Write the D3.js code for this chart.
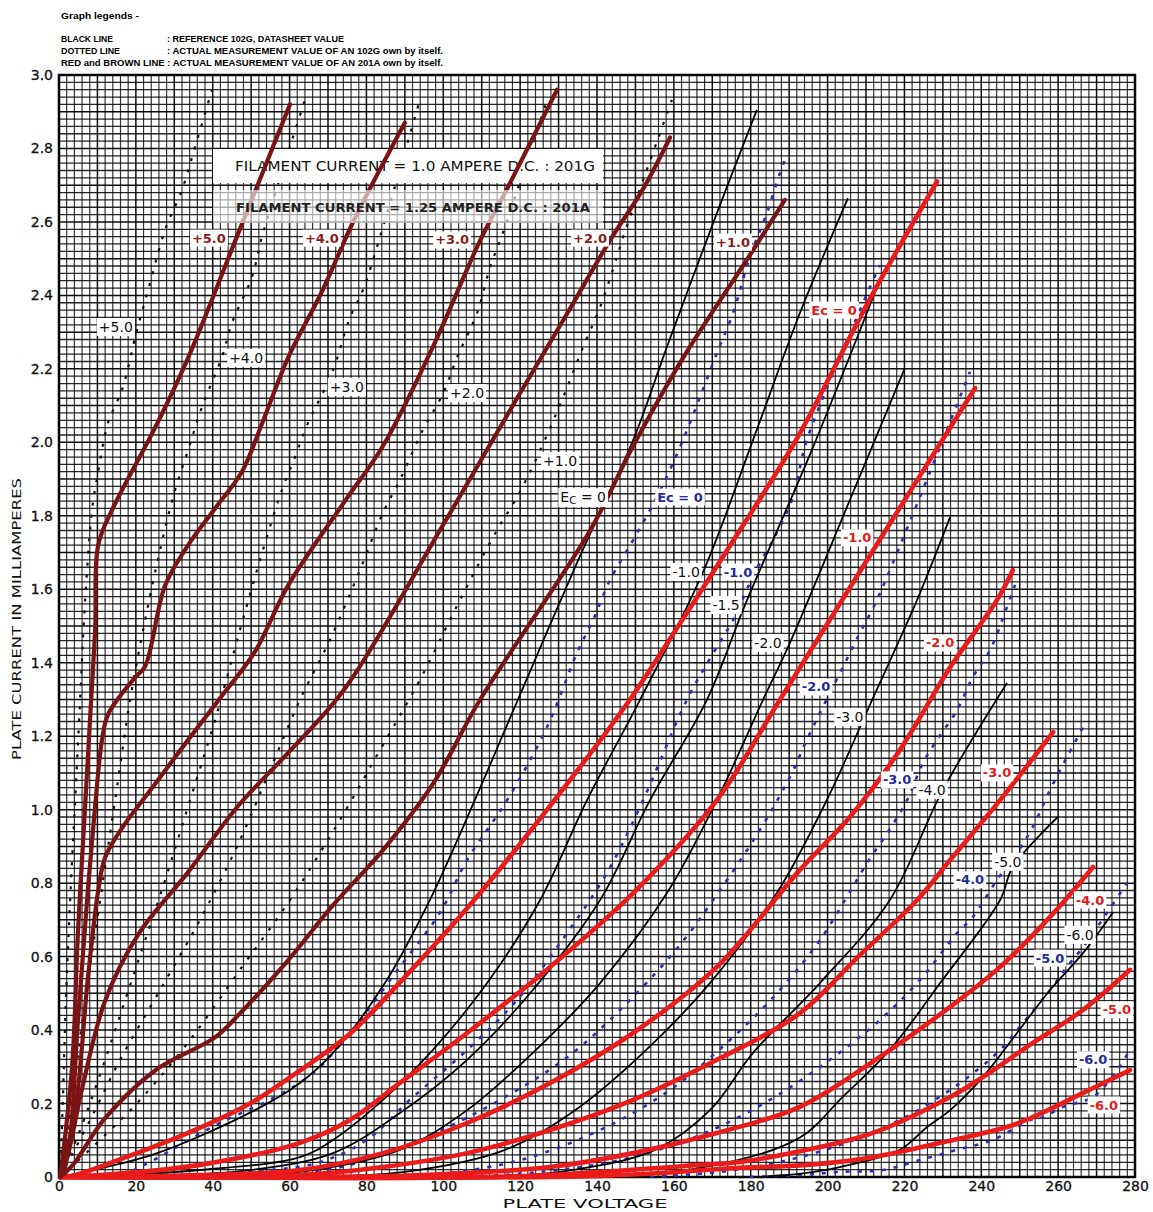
<!DOCTYPE html>
<html><head><meta charset="utf-8">
<script src="https://cdn.jsdelivr.net/npm/d3@7"></script>
<style>body{margin:0;background:#fff}</style>
</head><body>
<svg id="c" width="1153" height="1212" xmlns="http://www.w3.org/2000/svg"></svg>
<script>
// ---------- DATA (plate voltage V, plate current mA) ----------
const xTicks = [0,20,40,60,80,100,120,140,160,180,200,220,240,260,280];
const yTicks = [0,0.2,0.4,0.6,0.8,1.0,1.2,1.4,1.6,1.8,2.0,2.2,2.4,2.6,2.8,3.0];
const yTickLabels = ["0","0.2","0.4","0.6","0.8","1.0","1.2","1.4","1.6","1.8","2.0","2.2","2.4","2.6","2.8","3.0"];

// 201A measured, positive grid (brown)
const brownLabels = ["+5.0","+4.0","+3.0","+2.0","+1.0"];
const brownLabelAt = [[39.0,2.556],[68.4,2.556],[102.3,2.551],[138.2,2.556],[175.4,2.545]];
const brownCurves = [
  [[0.3,0],[3.4,0.3],[4.9,0.66],[6.8,1.01],[8.1,1.25],[9.4,1.49],[10.2,1.72],[14.0,1.82],[25.0,2.04],[33.6,2.23],[46.3,2.56],[60.1,2.92]],
  [[0.3,0],[2.3,0.06],[4.9,0.42],[7.5,0.78],[9.4,1.01],[11.2,1.19],[12.8,1.26],[19.8,1.36],[22.4,1.39],[27.6,1.61],[33.6,1.72],[40.6,1.82],[47.6,1.92],[52.8,2.05],[59.6,2.23],[68.4,2.41],[77.0,2.61],[90.0,2.87]],
  [[0.3,0],[4.2,0.18],[7.5,0.54],[10.2,0.78],[12.0,0.87],[16.4,0.95],[25.0,1.07],[33.6,1.19],[42.4,1.31],[51.0,1.43],[59.6,1.61],[74.4,1.84],[84.3,1.99],[97.3,2.26],[109.6,2.55],[116.6,2.69],[129.6,2.96]],
  [[0.3,0],[2.3,0.06],[6.0,0.24],[12.0,0.48],[20.6,0.66],[33.6,0.83],[46.6,1.01],[60.1,1.16],[74.4,1.33],[99.1,1.76],[119.2,2.12],[132.2,2.35],[143.4,2.55],[152.0,2.69],[159.0,2.83]],
  [[0.3,0],[3.4,0.03],[12.0,0.16],[25.0,0.29],[40.6,0.38],[46.6,0.44],[59.6,0.59],[71.3,0.74],[84.3,0.89],[97.3,1.07],[109.6,1.30],[138.2,1.76],[149.4,1.99],[162.4,2.23],[179.8,2.51],[188.9,2.66]]
];

// 201A measured, negative grid (red)
const redLabels = ["Ec = 0","-1.0","-2.0","-3.0","-4.0","-5.0","-6.0"];
const redLabelAt = [[201.7,2.36],[207.7,1.74],[229.3,1.454],[244.1,1.10],[268.3,0.754],[275.3,0.455],[271.9,0.196]];
const redCurves = [
  [[0.3,0],[3.4,0.003],[16.4,0.05],[33.6,0.12],[49.7,0.2],[62.7,0.29],[75.7,0.39],[88.7,0.53],[107.7,0.75],[128.5,1.02],[148.6,1.30],[155.6,1.41],[174.1,1.71],[192.0,2.01],[211.0,2.39],[228.5,2.71]],
  [[0.3,0],[10.7,0.005],[36.7,0.033],[62.7,0.093],[75.7,0.155],[88.7,0.256],[106.2,0.392],[127.8,0.572],[149.4,0.773],[171.2,1.026],[187.6,1.299],[213.9,1.74],[238.4,2.148]],
  [[0.3,0],[36.7,0.005],[62.7,0.019],[84.3,0.065],[106.2,0.147],[127.8,0.256],[149.4,0.392],[171.2,0.572],[192.8,0.836],[205.8,0.98],[218.8,1.162],[231.9,1.388],[244.1,1.571],[248.2,1.652]],
  [[0.3,0],[62.7,0.005],[84.3,0.027],[106.2,0.065],[127.8,0.128],[149.4,0.21],[171.2,0.319],[192.8,0.446],[208.0,0.6],[223.3,0.754],[231.9,0.863],[244.9,1.026],[258.7,1.211]],
  [[0.3,0],[88.7,0.003],[106.2,0.011],[127.8,0.027],[149.4,0.065],[171.2,0.12],[192.8,0.191],[213.6,0.327],[231.9,0.463],[244.9,0.572],[257.9,0.708],[269.1,0.844]],
  [[0.3,0],[114.8,0.001],[140.8,0.014],[166.8,0.033],[177.2,0.041],[194.6,0.074],[211.8,0.12],[231.9,0.218],[240.4,0.272],[253.4,0.365],[266.5,0.455],[278.7,0.564]],
  [[0.3,0],[140.8,0.003],[177.2,0.025],[194.6,0.033],[211.8,0.054],[229.3,0.093],[246.7,0.136],[253.4,0.163],[266.5,0.229],[278.7,0.291]]
];

// 102G datasheet (black solid)
const blackLabels = ["Ec = 0","-1.0","-1.5","-2.0","-3.0","-4.0","-5.0","-6.0"];
const blackLabelAt = [[136.4,1.851],[163.2,1.647],[173.6,1.557],[184.5,1.454],[205.8,1.252],[227.2,1.054],[246.9,0.858],[265.7,0.659]];
const blackCurves = [
  [[0.3,0],[7.5,0.016],[25.0,0.063],[51.0,0.182],[62.7,0.256],[71.3,0.338],[84.8,0.528],[96.5,0.754],[108.2,1.026],[119.4,1.299],[136.3,1.707],[149.4,2.006],[158.2,2.26],[171.2,2.624],[181.6,2.905]],
  [[0.3,0],[10.7,0.003],[36.7,0.019],[62.7,0.054],[71.3,0.101],[84.3,0.21],[97.3,0.346],[111.4,0.528],[125.2,0.754],[137.4,1.026],[151.2,1.299],[167.6,1.647],[180.6,2.006],[192.8,2.352],[205.3,2.665]],
  [[0.3,0],[23.7,0.003],[49.7,0.019],[71.3,0.065],[88.7,0.174],[106.2,0.319],[123.3,0.509],[140.8,0.754],[153.8,1.026],[168.6,1.299],[178.5,1.557],[195.9,1.979],[213.6,2.442]],
  [[36.7,0],[62.7,0.014],[88.7,0.074],[106.2,0.182],[123.3,0.338],[140.8,0.528],[158.2,0.773],[171.2,1.026],[183.2,1.299],[190.2,1.454],[205.8,1.843],[220.1,2.202]],
  [[62.7,0],[90.0,0.014],[116.1,0.074],[134.3,0.182],[152.0,0.338],[169.4,0.528],[186.8,0.773],[199.8,1.026],[211.6,1.299],[223.3,1.571],[231.9,1.797]],
  [[106.9,0],[130.4,0.014],[155.1,0.074],[169.4,0.182],[180.6,0.338],[198.0,0.528],[216.2,0.754],[230.0,1.054],[246.7,1.345]],
  [[146.0,0],[166.8,0.025],[185.8,0.074],[194.6,0.12],[203.2,0.21],[216.2,0.346],[229.3,0.528],[244.9,0.754],[248.2,0.844],[259.9,0.98]],
  [[182.4,0],[194.6,0.011],[203.2,0.027],[218.8,0.074],[225.9,0.136],[231.9,0.182],[240.4,0.272],[249.3,0.392],[257.9,0.509],[266.5,0.61],[274.3,0.721]]
];

// 102G measured, positive grid (black dotted)
const dottedLabels = ["+5.0","+4.0","+3.0","+2.0","+1.0"];
const dottedLabelAt = [[14.8,2.314],[48.7,2.23],[74.9,2.151],[106.2,2.134],[130.4,1.949]];
const dottedCurves = [
  [[0.3,0],[1.0,0.21],[1.8,0.482],[2.9,0.754],[4.2,1.026],[5.5,1.299],[6.8,1.571],[8.6,1.816],[10.15,1.917],[12.75,2.053],[16.4,2.143],[20.3,2.306],[23.2,2.415],[27.6,2.578],[32.0,2.687],[35.4,2.804],[39.8,2.959]],
  [[0.3,0],[3.4,0.21],[6.8,0.482],[10.7,0.754],[14.6,1.026],[18.5,1.299],[22.4,1.516],[26.3,1.707],[30.2,1.87],[33.6,1.979],[37.2,2.096],[42.4,2.232],[45.0,2.325],[50.2,2.45],[52.8,2.559],[64.0,2.932]],
  [[0.3,0],[5.5,0.128],[11.97,0.318],[19.8,0.563],[27.6,0.808],[34.1,1.026],[40.6,1.244],[47.1,1.489],[52.3,1.68],[58.0,1.87],[61.4,1.96],[64.8,2.053],[71.0,2.188],[75.7,2.339],[79.1,2.415],[84.3,2.586],[93.9,2.932]],
  [[0.3,0],[8.1,0.155],[15.9,0.319],[26.3,0.509],[36.7,0.7],[47.1,0.917],[54.9,1.108],[62.7,1.299],[70.5,1.462],[78.3,1.652],[84.3,1.808],[88.7,1.897],[94.7,2.034],[100.0,2.134],[103.6,2.232],[108.8,2.352],[112.2,2.477],[115.5,2.57],[127.0,2.932]],
  [[0.3,0],[10.7,0.101],[21.1,0.21],[34.1,0.373],[47.1,0.564],[60.1,0.754],[73.1,0.972],[83.5,1.162],[93.9,1.353],[104.35,1.571],[113.97,1.761],[119.2,1.851],[124.4,1.96],[131.2,2.123],[136.4,2.26],[140.8,2.368],[145.2,2.505],[146.8,2.559],[159.5,2.932]]
];

// 102G measured, negative grid (blue dotted)
const blueLabels = ["Ec = 0","-1.0","-2.0","-3.0","-4.0","-5.0","-6.0"];
const blueLabelAt = [[161.6,1.851],[176.7,1.647],[197.0,1.334],[218.1,1.081],[237.05,0.809],[257.9,0.596],[269.1,0.319]];
const blueCurves = [
  [[10.0,0],[15.9,0.005],[23.7,0.041],[31.5,0.087],[42.4,0.15],[54.9,0.21],[66.1,0.283],[75.7,0.392],[88.7,0.572],[99.1,0.719],[106.2,0.863],[116.6,1.026],[127.0,1.225],[134.8,1.427],[138.95,1.516],[143.4,1.625],[149.4,1.734],[155.6,1.851],[161.6,1.987],[166.8,2.123],[171.2,2.243],[175.4,2.352],[179.8,2.505],[184.2,2.624],[187.6,2.733],[188.9,2.769]],
  [[36.7,0],[49.7,0.014],[67.1,0.038],[80.1,0.101],[91.3,0.21],[106.2,0.346],[119.2,0.482],[132.2,0.664],[142.6,0.828],[152.0,1.026],[163.4,1.299],[171.2,1.443],[175.4,1.516],[181.1,1.647],[185.8,1.734],[191.0,1.851],[194.6,2.006],[213.6,2.483]],
  [[57.5,0],[75.7,0.033],[93.9,0.101],[114.8,0.21],[133.0,0.332],[148.6,0.482],[161.6,0.632],[172.0,0.781],[182.4,0.945],[190.2,1.089],[194.6,1.19],[198.8,1.28],[204.0,1.388],[208.4,1.481],[212.85,1.571],[237.05,2.192]],
  [[83.5,0],[96.5,0.005],[120.0,0.046],[140.8,0.128],[159.0,0.237],[174.6,0.373],[187.6,0.509],[198.0,0.645],[205.0,0.762],[210.3,0.855],[215.5,0.936],[220.7,1.026],[224.8,1.127],[228.5,1.19],[233.7,1.271],[237.8,1.361],[242.3,1.435],[246.7,1.552],[248.8,1.612]],
  [[106.9,0],[125.2,0.014],[146.0,0.046],[166.8,0.114],[185.0,0.21],[200.6,0.319],[213.6,0.427],[224.0,0.536],[233.7,0.664],[237.8,0.708],[244.1,0.809],[249.3,0.882],[253.4,0.953],[257.9,1.054],[262.3,1.143],[266.5,1.225]],
  [[153.8,0],[172.0,0.014],[187.6,0.041],[203.2,0.087],[218.8,0.155],[231.9,0.237],[238.9,0.291],[244.9,0.346],[250.8,0.419],[257.9,0.509],[262.3,0.572],[266.5,0.626],[272.7,0.719],[277.9,0.8]],
  [[179.8,0],[192.8,0.005],[203.2,0.014],[214.4,0.019],[224.0,0.046],[233.7,0.074],[243.0,0.101],[252.7,0.155],[256.1,0.163],[261.3,0.191],[269.1,0.218],[275.3,0.291],[278.7,0.346]]
];

const legendLines = [
  ["BLACK LINE", ": REFERENCE 102G, DATASHEET VALUE"],
  ["DOTTED LINE", ": ACTUAL MEASUREMENT VALUE OF AN 102G own by itself."]
];
const legendLast = "RED and BROWN LINE : ACTUAL MEASUREMENT VALUE OF AN 201A own by itself.";
const boxTexts = ["FILAMENT CURRENT = 1.0 AMPERE D.C. : 201G","FILAMENT CURRENT = 1.25 AMPERE D.C. : 201A"];

// ---------- DRAWING ----------
const svg = d3.select('#c');
const x = d3.scaleLinear().domain([0,280]).range([59,1135]);
const y = d3.scaleLinear().domain([0,3]).range([1177,75]);
const FONT = "'DejaVu Sans', Verdana, sans-serif";

svg.append('rect').attr('width',1153).attr('height',1212).attr('fill','#fff');

// grid (fine graph paper)
const grid = svg.append('g');
grid.selectAll('line.v').data(d3.range(0,281,2)).join('line')
  .attr('x1',d=>x(d)).attr('x2',d=>x(d)).attr('y1',y(0)).attr('y2',y(3))
  .attr('stroke','#000').attr('stroke-opacity',d=>d%10===0?0.95:0.8)
  .attr('stroke-width',d=>d%10===0?1.5:1.2);
grid.selectAll('line.h').data(d3.range(0,151,1)).join('line')
  .attr('x1',x(0)).attr('x2',x(280)).attr('y1',d=>y(d*0.02)).attr('y2',d=>y(d*0.02))
  .attr('stroke','#000').attr('stroke-opacity',d=>d%5===0?0.95:0.85)
  .attr('stroke-width',d=>d%5===0?1.5:1.3);
svg.append('rect').attr('x',x(0)).attr('y',y(3)).attr('width',x(280)-x(0)).attr('height',y(0)-y(3))
  .attr('fill','none').attr('stroke','#000').attr('stroke-width',2.5);

// axes
const xAxis = d3.axisBottom(x).tickValues(xTicks).tickSize(0).tickPadding(4).tickFormat(d=>String(d));
svg.append('g').attr('transform',`translate(0,${y(0)})`).call(xAxis)
  .call(g=>g.select('.domain').remove())
  .call(g=>g.selectAll('text').attr('font-family',FONT).attr('font-size',14).attr('fill','#111')
    .attr('stroke','#111').attr('stroke-width',0.3));
const yAxis = d3.axisLeft(y).tickValues(yTicks).tickSize(0).tickPadding(6).tickFormat((d,i)=>yTickLabels[i]);
svg.append('g').attr('transform',`translate(${x(0)},0)`).call(yAxis)
  .call(g=>g.select('.domain').remove())
  .call(g=>g.selectAll('text').attr('font-family',FONT).attr('font-size',14).attr('fill','#111')
    .attr('stroke','#111').attr('stroke-width',0.3));

svg.append('text').attr('x',585).attr('y',1208).attr('text-anchor','middle')
  .attr('font-family',FONT).attr('font-size',12.5).attr('textLength',165).attr('lengthAdjust','spacingAndGlyphs')
  .attr('fill','#111').text('PLATE VOLTAGE');
svg.append('text').attr('transform','translate(21,619) rotate(-90)').attr('text-anchor','middle')
  .attr('font-family',FONT).attr('font-size',12.5).attr('textLength',282).attr('lengthAdjust','spacingAndGlyphs')
  .attr('fill','#111').text('PLATE CURRENT IN MILLIAMPERES');

// legend
const LF = "'Liberation Sans Narrow', 'Liberation Sans', sans-serif";
svg.append('text').attr('x',61).attr('y',19).attr('font-family',LF).attr('font-weight','bold').attr('font-size',9.5)
  .attr('textLength',78).attr('lengthAdjust','spacingAndGlyphs').text('Graph legends -');
legendLines.forEach((r,i)=>{
  const yy = 42 + i*11.8;
  svg.append('text').attr('x',61).attr('y',yy).attr('font-family',LF).attr('font-weight','bold').attr('font-size',8.5)
    .attr('textLength', i===0?52:59).attr('lengthAdjust','spacingAndGlyphs').text(r[0]);
  svg.append('text').attr('x',167).attr('y',yy).attr('font-family',LF).attr('font-weight','bold').attr('font-size',8.5)
    .attr('textLength', i===0?177:276).attr('lengthAdjust','spacingAndGlyphs').text(r[1]);
});
svg.append('text').attr('x',61).attr('y',65.6).attr('font-family',LF).attr('font-weight','bold').attr('font-size',8.5)
  .attr('textLength',382).attr('lengthAdjust','spacingAndGlyphs').text(legendLast);

const line = d3.line().x(d=>x(d[0])).y(d=>y(d[1])).curve(d3.curveCatmullRom.alpha(0.5));

// black dotted (102G measured +grid)
svg.append('g').selectAll('path').data(dottedCurves).join('path')
  .attr('d',line).attr('fill','none').attr('stroke','#111').attr('stroke-width',2.2)
  .attr('stroke-dasharray','3,9');
// blue dotted
svg.append('g').selectAll('path').data(blueCurves).join('path')
  .attr('d',line).attr('fill','none').attr('stroke','#2a2fb0').attr('stroke-width',2.6)
  .attr('stroke-dasharray','4,8');
// black solid
svg.append('g').selectAll('path').data(blackCurves).join('path')
  .attr('d',line).attr('fill','none').attr('stroke','#000').attr('stroke-width',1.8);

// box 1
svg.append('rect').attr('x',213).attr('y',149).attr('width',390).attr('height',34).attr('fill','#fff');
svg.append('text').attr('x',235).attr('y',171).attr('font-family',FONT).attr('font-size',13.5)
  .attr('textLength',360).attr('lengthAdjust','spacingAndGlyphs').attr('fill','#111').text(boxTexts[0]);

// red
svg.append('g').selectAll('path').data(redCurves).join('path')
  .attr('d',line).attr('fill','none').attr('stroke','#ea1b1b').attr('stroke-width',4.6)
  .attr('stroke-linecap','round');
// brown
svg.append('g').selectAll('path').data(brownCurves).join('path')
  .attr('d',line).attr('fill','none').attr('stroke','#7a1414').attr('stroke-width',4.2)
  .attr('stroke-linecap','round');

// box 2 (translucent)
svg.append('rect').attr('x',213).attr('y',190).attr('width',390).attr('height',33).attr('fill','#fff').attr('fill-opacity',0.62);
svg.append('text').attr('x',236).attr('y',212).attr('font-family',FONT).attr('font-size',13).attr('font-weight','bold')
  .attr('textLength',354).attr('lengthAdjust','spacingAndGlyphs').attr('fill','#222').text(boxTexts[1]);

// labels
const lab = svg.append('g');
function addLabel(txt, at, color, weight, size, sub){
  const gx = x(at[0]), gy = y(at[1]);
  const g = lab.append('g');
  const r = g.append('rect').attr('fill','#fff');
  const t = g.append('text').attr('x',gx).attr('y',gy).attr('text-anchor','middle').attr('dominant-baseline','central')
    .attr('font-family',FONT).attr('font-size',size).attr('font-weight',weight).attr('fill',color);
  if(sub){
    t.append('tspan').text('E');
    t.append('tspan').attr('font-size',size*0.75).attr('dy',3).text('C');
    t.append('tspan').attr('dy',-3).text(' = 0');
  } else t.text(txt);
  const b = t.node().getBBox();
  r.attr('x',b.x-2).attr('y',b.y-1).attr('width',b.width+4).attr('height',b.height+2);
}
brownLabels.forEach((s,i)=>addLabel(s,brownLabelAt[i],'#8a1a1a','bold',13));
redLabels.forEach((s,i)=>addLabel(s,redLabelAt[i],'#e21a1a','bold',13));
blueLabels.forEach((s,i)=>addLabel(s,blueLabelAt[i],'#1e2a9e','bold',13));
blackLabels.forEach((s,i)=>addLabel(s,blackLabelAt[i],'#111','normal',14, i===0));
dottedLabels.forEach((s,i)=>addLabel(s,dottedLabelAt[i],'#111','normal',14));
</script>
</body></html>
